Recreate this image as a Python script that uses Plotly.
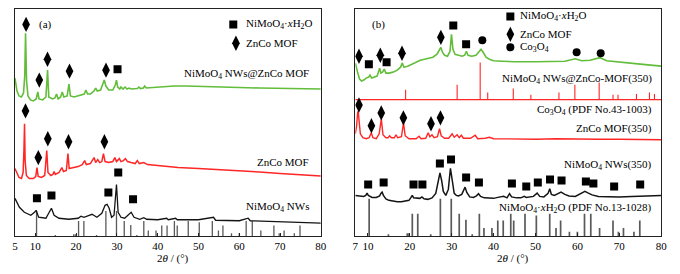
import plotly.graph_objects as go

FONT = "Liberation Serif"
GREEN = "#62bd3a"
RED = "#ff2626"
BLACK = "#141414"
GRAY = "#5a5a5a"

# ---------------- Panel (a) : XRD patterns (2theta, intensity a.u. incl. stacking offset)
a_green_x = [5.0, 5.5, 6.0, 6.6, 7.1, 7.4, 7.6, 7.85, 8.2, 8.8, 9.5, 10.2, 10.6, 10.9, 11.8, 12.6, 13.0, 13.3,
             14.2, 14.8, 15.2, 15.6, 16.2, 16.6, 17.0, 17.8, 18.25, 18.6, 19.5, 21.0, 22.0, 22.4, 22.8, 23.5,
             24.4, 24.8, 25.2, 26.0, 26.6, 26.9, 27.3, 28.0, 29.0, 29.6, 29.9, 30.2, 30.7, 31.0, 31.5, 32.0,
             32.5, 33.0, 33.5, 34.3, 35.0, 35.4, 35.8, 36.5, 36.8, 37.2, 40, 44, 47, 50, 55, 60, 65, 70, 75, 80]
a_green_y = [159, 146, 141, 140, 144, 161, 204, 156, 141, 137, 136, 138, 145, 138, 137, 140, 167, 140,
             138, 139, 143, 138, 140, 145, 140, 141, 153, 141, 140, 142, 143, 147, 143, 143,
             146, 149, 146, 147, 153, 157, 151, 147, 147, 152, 157, 150, 148, 150, 148, 150,
             148, 149, 148, 148, 148.5, 150, 148.5, 149, 151, 149, 150, 151, 151, 150.5, 150, 149.5, 149, 148.5, 148, 148]

a_red_x = [5.0, 5.5, 6.0, 6.6, 7.0, 7.2, 7.35, 7.5, 7.8, 8.5, 9.5, 10.1, 10.4, 10.7, 11.5, 12.3, 12.8, 13.1,
           13.8, 14.3, 14.6, 14.9, 15.8, 16.5, 16.9, 17.6, 18.0, 18.3, 19.5, 20.5, 21.5, 22.1, 22.5, 23.5,
           24.4, 24.8, 25.3, 25.8, 26.3, 26.7, 27.1, 28.0, 29.0, 29.5, 29.9, 30.6, 31.0, 31.6, 32.1, 32.6,
           33.5, 34.5, 35.0, 35.5, 36.6, 37.5, 40, 45, 50, 55, 60, 65, 70, 75, 80]
a_red_y = [68, 63, 59, 58, 64, 86, 113, 76, 61, 58, 58, 60, 69, 60, 59, 61, 86, 64,
           61, 62, 65, 62, 64, 69, 65, 66, 83, 68, 69, 70, 72, 76, 72, 73,
           79, 74, 77, 74, 75, 83, 75, 74, 75, 79, 75, 78, 75, 76, 78, 75,
           74, 73, 76, 73, 74, 72, 71, 69, 68, 67, 66, 64.5, 63, 61.5, 60.5]

a_black_x = [5.0, 6.1, 7.3, 8.9, 9.8, 10.2, 10.8, 12.6, 13.4, 13.95, 14.6, 15.8, 18.2, 20.5, 21.2, 21.9,
             23.2, 23.9, 25.1, 26.3, 27.1, 27.6, 28.1, 28.7, 29.3, 29.9, 30.3, 31.0, 31.9, 33.1, 33.5, 34.2,
             35.6, 36.6, 37.3, 40, 42.2, 42.6, 44.4, 44.8, 50, 53.7, 54.2, 60, 62.2, 62.7, 70, 75, 80]
a_black_y = [38, 29, 24, 21, 24, 26, 19, 18, 24, 28, 21, 18, 17, 18, 20, 19,
             21, 22, 19, 23, 31, 32, 28, 19, 21, 52, 24, 19, 18, 22, 24, 19,
             17, 18.5, 17, 16.5, 18, 16.5, 18, 16.5, 16.5, 19, 16, 15.5, 18, 15.5, 14.5, 13.8, 13]

# NiMoO4.xH2O reference (PDF No.13-1028): 2theta and relative intensity (%)
pdf_nimoo4_x = [10.3, 14.9, 19.4, 19.8, 20.6, 21.9, 25.0, 27.3, 29.9, 31.8, 33.4, 34.9, 36.6, 37.7, 39.6, 39.9,
                41.0, 42.3, 44.1, 44.8, 47.5, 50.2, 53.4, 54.9, 56.0, 58.1, 60.0, 61.7, 63.2, 65.3, 68.5, 69.8,
                71.0, 73.5, 74.9]
pdf_nimoo4_i = [100, 5, 8, 8, 60, 60, 5, 100, 100, 60, 44, 5, 60, 22, 22, 8,
                42, 42, 60, 42, 60, 55, 60, 22, 42, 12, 12, 60, 60, 22, 42, 12,
                22, 12, 42]

# Co3O4 reference (PDF No.43-1003)
pdf_co3o4_x = [19.0, 31.3, 36.8, 38.6, 44.7, 48.9, 55.6, 59.4, 65.2, 68.5, 69.7, 74.1, 77.2, 78.4]
pdf_co3o4_i = [27, 40, 100, 19, 30, 13, 19, 40, 46, 13, 13, 15, 19, 15]

# markers panel (a)
a_dia_x = [7.73, 10.97, 12.98, 18.38, 27.33, 7.59, 10.73, 13.06, 18.14, 26.94]
a_dia_y = [213, 157, 178, 166, 167, 126, 79, 98, 95, 95]
a_sq_x = [30.16, 10.39, 13.95, 27.91, 30.33, 33.96]
a_sq_y = [168, 38, 41, 44, 64, 37]

# ---------------- Panel (b)
b_green_x = [7.0, 7.3, 7.6, 8.0, 8.5, 9.0, 9.6, 10.2, 10.5, 10.9, 11.5, 12.2, 12.6, 12.8, 13.1, 13.5, 13.9, 14.3,
             15.0, 16.0, 17.0, 17.8, 18.2, 18.6, 19.5, 20.5, 21.5, 22.5, 23.5, 24.5, 25.5, 26.5, 27.1, 27.4,
             27.8, 28.3, 29.0, 29.6, 29.95, 30.3, 30.8, 31.5, 32.5, 33.1, 33.5, 33.9, 34.8, 35.8, 36.5, 37.0,
             37.5, 38.2, 39.0, 40, 42, 45, 50, 55, 57, 59.5, 61, 63, 65.4, 67, 70, 75, 80]
b_green_y = [174, 170, 164, 158, 156, 157, 159, 160, 162, 159, 160, 161, 166, 169, 164, 165, 168, 164,
             164, 165, 167, 170, 174, 170, 171, 173, 175, 177, 178, 179, 180, 183, 187, 190,
             185, 182, 181, 186, 203, 188, 183, 182, 181, 182, 186, 182, 181, 182, 186, 188,
             185, 180, 178, 176.5, 176, 175.5, 175.5, 176, 176, 178.5, 176.5, 177, 179.5, 176.5, 175, 173, 171]

b_red_x = [7.0, 7.3, 7.55, 7.7, 7.9, 8.2, 8.8, 9.6, 10.3, 10.8, 11.2, 12.0, 12.7, 13.2, 13.6, 14.3, 14.8, 15.2,
           15.6, 16.3, 16.7, 17.1, 18.0, 18.5, 18.9, 19.8, 21.5, 22.2, 22.7, 23.8, 24.4, 24.8, 25.3, 25.8,
           26.6, 27.1, 27.5, 28.3, 29.3, 30.1, 30.6, 31.3, 31.8, 32.3, 32.8, 34.5, 35.6, 36.2, 38, 39, 40,
           45, 50, 55, 60, 65, 70, 75, 80]
b_red_y = [103, 111, 124, 126, 116, 103, 99, 98, 99, 104, 99, 98, 103, 118, 102, 99, 99, 101,
           99, 99, 102, 99, 100, 114, 101, 98, 98, 100.5, 98, 98.5, 104, 100, 102, 99,
           100, 108, 101, 98.5, 98.5, 103, 99.5, 102, 99, 101.5, 98.5, 98.5, 101.5, 98, 98.5, 99.5, 98,
           97.5, 97.5, 98, 97.5, 97.5, 97.5, 97.5, 97]

b_black_x = [7.0, 8.0, 9.0, 9.5, 9.8, 10.1, 11.0, 12.0, 12.8, 13.1, 13.4, 13.7, 14.3, 15, 16, 17, 18, 19, 19.8,
             20.3, 20.6, 20.9, 21.5, 22.4, 22.9, 23.4, 24.3, 25.3, 26.2, 26.8, 27.2, 27.6, 28.0, 28.6, 29.2,
             29.7, 30.1, 30.6, 31.1, 31.6, 32.4, 33.2, 33.6, 34.3, 35.2, 35.9, 36.4, 36.9, 37.8, 38.8, 40, 41,
             42.4, 43.2, 43.8, 44.3, 45.5, 46.5, 47.3, 47.8, 49.5, 50.4, 51.0, 52, 53.0, 53.4, 53.8, 54.5,
             55.5, 56.1, 57, 58, 59.5, 60.5, 61.8, 62.5, 63.5, 65, 67, 70, 73, 75, 77, 80]
b_black_y = [41, 40.5, 40, 41, 43.3, 41, 39, 39, 40.5, 43, 44.3, 41, 37.5, 36, 35, 34.5, 34.5, 35, 36,
             39, 41, 38.5, 38, 38, 39.5, 37.5, 37, 38.5, 43, 54, 63.7, 56, 45, 41, 47,
             68.3, 56, 43, 41, 40.5, 42, 49.3, 44, 39.5, 39, 40.5, 42.7, 40, 38.5, 38, 38, 39,
             40, 38.5, 42.7, 39.5, 38.5, 38.5, 40, 39, 40, 43.3, 40, 39.5, 43, 47.7, 42, 41,
             43, 44.3, 42, 40.5, 40, 42.5, 45, 43.5, 41.5, 40, 39.5, 39.5, 40, 40.5, 41, 41]

b_dia_x = [7.87, 12.96, 18.14, 27.42, 7.87, 10.84, 13.19, 18.47, 25.06, 27.32]
b_dia_y = [181, 182, 184, 200, 132, 111, 124, 119, 113, 119]
b_sq_x = [10.23, 14.46, 30.38, 33.44, 10.06, 13.76, 20.89, 23.01, 27.18, 29.84, 33.44, 36.5, 44.37, 47.8,
          50.56, 53.47, 56.22, 62.03, 63.82, 68.77, 74.99]
b_sq_y = [173, 175, 212, 193, 52, 54, 52, 52, 73, 77, 59, 54, 53, 50, 54, 57, 56, 55, 53, 50, 52]
b_circ_x = [37.31, 59.82, 65.56]
b_circ_y = [197, 185, 184]

# reference stick offsets / scales (a.u.)
CO_BASE = 137.3
CO_SCALE = 37.3
NM_SCALE_A = 25.3
NM_SCALE_B = 37.7


def sticks(xs, ints, base, scale):
    sx, sy = [], []
    for x, i in zip(xs, ints):
        sx += [x, x, None]
        sy += [base, base + i * scale / 100.0, None]
    return sx, sy


fig = go.Figure()

def line(x, y, color, width, xa, ya):
    fig.add_trace(go.Scatter(x=x, y=y, mode="lines", line=dict(color=color, width=width),
                             xaxis=xa, yaxis=ya, showlegend=False, hoverinfo="skip"))

def markers(x, y, symbol, size, xa, ya):
    fig.add_trace(go.Scatter(x=x, y=y, mode="markers",
                             marker=dict(symbol=symbol, size=size, color="black", line=dict(width=0)),
                             xaxis=xa, yaxis=ya, showlegend=False, hoverinfo="skip"))

# panel (a)
sx, sy = sticks(pdf_nimoo4_x, pdf_nimoo4_i, 0, NM_SCALE_A)
line(sx, sy, GRAY, 1.3, "x", "y")
line(a_black_x, a_black_y, BLACK, 1.3, "x", "y")
line(a_red_x, a_red_y, RED, 1.5, "x", "y")
line(a_green_x, a_green_y, GREEN, 1.6, "x", "y")
markers(a_dia_x, a_dia_y, "diamond-tall", 11, "x", "y")
markers(a_sq_x, a_sq_y, "square", 8, "x", "y")
markers([58.54], [213], "square", 8, "x", "y")
markers([59.19], [194], "diamond-tall", 11, "x", "y")

# panel (b)
sx, sy = sticks(pdf_nimoo4_x, pdf_nimoo4_i, 0, NM_SCALE_B)
line(sx, sy, GRAY, 1.7, "x2", "y2")
sx, sy = sticks(pdf_co3o4_x, pdf_co3o4_i, CO_BASE, CO_SCALE)
line(sx, sy, RED, 1.1, "x2", "y2")
line([7, 80], [CO_BASE, CO_BASE], RED, 1.2, "x2", "y2")
line(b_black_x, b_black_y, BLACK, 1.5, "x2", "y2")
line(b_red_x, b_red_y, RED, 1.4, "x2", "y2")
line(b_green_x, b_green_y, GREEN, 1.6, "x2", "y2")
markers(b_dia_x, b_dia_y, "diamond-tall", 11, "x2", "y2")
markers(b_sq_x, b_sq_y, "square", 8, "x2", "y2")
markers(b_circ_x, b_circ_y, "circle", 8, "x2", "y2")
markers([44.0], [221], "square", 8, "x2", "y2")
markers([44.0], [203], "diamond-tall", 11, "x2", "y2")
markers([44.0], [190], "circle", 8, "x2", "y2")

F = dict(family=FONT, size=11, color="black")
ann = []
def text(x, y, t, xa, ya, anchor="right"):
    ann.append(dict(x=x, y=y, xref=xa, yref=ya, text=t, showarrow=False, xanchor=anchor,
                    yanchor="middle", font=F))

text(77.6, 163, "NiMoO<sub>4</sub> NWs@ZnCo MOF", "x", "y")
text(77.6, 75, "ZnCo MOF", "x", "y")
text(77.6, 29, "NiMoO<sub>4</sub> NWs", "x", "y")
text(61.2, 213, "NiMoO<sub>4</sub>·<i>x</i>H<sub>2</sub>O", "x", "y", "left")
text(61.2, 194, "ZnCo MOF", "x", "y", "left")
text(12.6, 213, "(a)", "x", "y", "center")

text(78.2, 158, "NiMoO<sub>4</sub> NWs@ZnCo-MOF(350)", "x2", "y2")
text(78.2, 127, "Co<sub>3</sub>O<sub>4</sub> (PDF No.43-1003)", "x2", "y2")
text(78.2, 108.5, "ZnCo MOF(350)", "x2", "y2")
text(78.2, 72, "NiMoO<sub>4</sub> NWs(350)", "x2", "y2")
text(78.2, 28, "NiMoO<sub>4</sub>·<i>x</i>H<sub>2</sub>O (PDF No.13-1028)", "x2", "y2")
text(45.8, 221, "NiMoO<sub>4</sub>·<i>x</i>H<sub>2</sub>O", "x2", "y2", "left")
text(45.8, 203, "ZnCo MOF", "x2", "y2", "left")
text(45.8, 190, "Co<sub>3</sub>O<sub>4</sub>", "x2", "y2", "left")
text(12.6, 213, "(b)", "x2", "y2", "center")

# The page adds an 8px body margin, so the figure is 672x266 and placed accordingly.
W, H = 672, 266
for xc in (164 / W, 509 / W):
    ann.append(dict(x=xc, y=(H - 250) / H, xref="paper", yref="paper", text="2<i>θ</i> / (°)",
                    showarrow=False, xanchor="center", yanchor="middle", font=F))

ydom = [(H - 228) / H, (H - 0.5) / H]
axcommon = dict(showline=True, mirror=True, linecolor="#222", linewidth=1, showgrid=False,
                zeroline=False, ticks="inside", ticklen=3, tickcolor="#222",
                tickfont=dict(family=FONT, size=11, color="black"))
ycommon = dict(showline=True, mirror=True, linecolor="#222", linewidth=1, showgrid=False,
               zeroline=False, showticklabels=False, ticks="", range=[0, 228], domain=ydom)

fig.update_layout(
    width=W, height=H, margin=dict(l=0, r=0, t=0, b=0),
    paper_bgcolor="white", plot_bgcolor="white",
    xaxis=dict(domain=[4 / W, 314 / W], range=[5, 80],
               tickvals=[5, 10, 20, 30, 40, 50, 60, 70, 80], anchor="y", **axcommon),
    yaxis=dict(anchor="x", **ycommon),
    xaxis2=dict(domain=[349 / W, 659 / W], range=[7, 80],
                tickvals=[7, 10, 20, 30, 40, 50, 60, 70, 80], anchor="y2", **axcommon),
    yaxis2=dict(anchor="x2", **ycommon),
    annotations=ann,
    showlegend=False,
)

fig.write_html("out.html")
